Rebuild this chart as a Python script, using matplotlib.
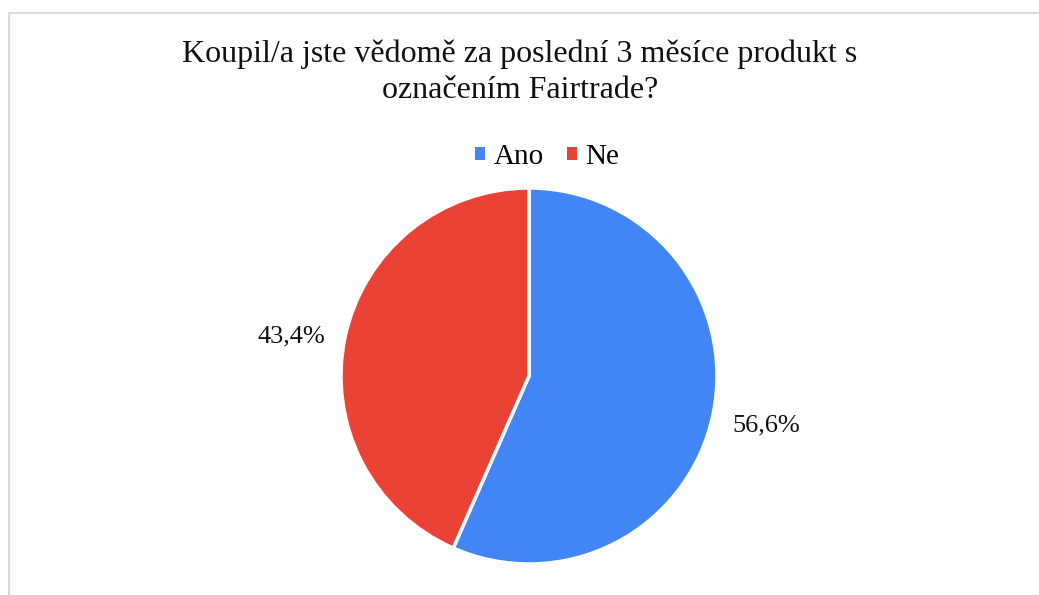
import matplotlib
matplotlib.use("Agg")
import matplotlib.pyplot as plt
from matplotlib.lines import Line2D
from matplotlib.patches import Patch

categories = ["Ano", "Ne"]
values = [56.6, 43.4]
colors = ["#4285F4", "#EA4335"]
title = "Koupil/a jste vědomě za poslední 3 měsíce produkt s\noznačením Fairtrade?"

plt.rcParams['font.family'] = ['Liberation Serif', 'DejaVu Serif']

W, H = 1039, 595
fig = plt.figure(figsize=(W / 100, H / 100), dpi=100)
fig.patch.set_facecolor("white")

# border lines (top and left)
fig.add_artist(Line2D([8.5 / W, 1], [1 - 12.5 / H, 1 - 12.5 / H], color="#d9d9d9", lw=1.5))
fig.add_artist(Line2D([8.5 / W, 8.5 / W], [0, 1 - 12.5 / H], color="#d9d9d9", lw=1.5))

cx, cy, r = 529, 376, 188
ax = fig.add_axes([(cx - r) / W, (H - cy - r) / H, 2 * r / W, 2 * r / H])
wedges, texts, autotexts = ax.pie(
    values, colors=colors, startangle=90, counterclock=False,
    wedgeprops=dict(edgecolor="white", linewidth=2.5),
    autopct=lambda p: f"{p:.1f}%".replace(".", ","),
    pctdistance=1.29, textprops=dict(fontsize=19, color="#111111"),
)
# Excel-like placement of the smaller slice's label
autotexts[1].set_position((-1.266, 0.213))
ax.set_xlim(-1, 1)
ax.set_ylim(-1, 1)
ax.set_aspect("equal")

fig.text(520 / W, 1 - 72 / H, title, ha="center", va="center", fontsize=23,
         color="#111111", linespacing=1.3)

handles = [Patch(facecolor=c, edgecolor="none") for c in colors]
fig.legend(handles, categories, loc="center", bbox_to_anchor=(547 / W, 1 - 157 / H),
           ncol=2, frameon=False, fontsize=21, handlelength=0.35, handleheight=0.35,
           handletextpad=0.28, columnspacing=0.8)

fig.savefig("out.png", dpi=100)
